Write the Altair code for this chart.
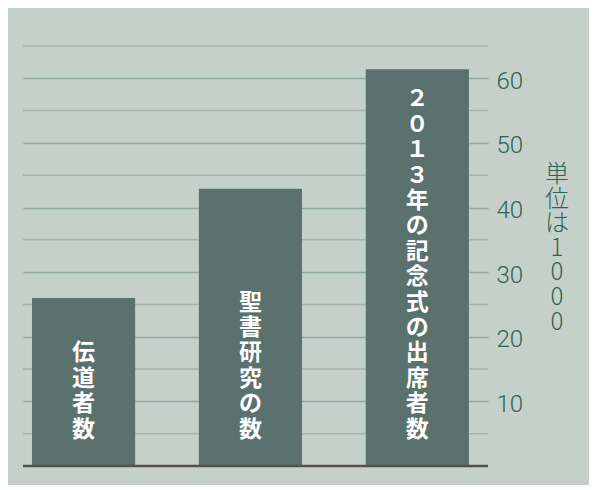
import altair as alt
import pandas as pd

categories = ["伝道者数", "聖書研究の数", "２０１３年の記念式の出席者数"]
values = [26.0, 42.9, 61.4]
major_ticks = [10, 20, 30, 40, 50, 60]
minor_lines = [5, 15, 25, 35, 45, 55, 65]
unit_title = "単位は1000"

LINE_H = 25.4
PX_PER_UNIT = 420 / 65

df = pd.DataFrame({
    "cat": categories,
    "val": values,
    "label": ["\n".join(c) for c in categories],
    "n": [len(c) for c in categories],
})
minor_df = pd.DataFrame({"v": minor_lines})

x_enc = alt.X(
    "cat:N", sort=categories, axis=None,
    scale=alt.Scale(paddingInner=0.382, paddingOuter=0.084, align=0.32),
)
y_scale = alt.Scale(domain=[0, 65], nice=False)

minor = alt.Chart(minor_df).mark_rule(color="#a9b1ab", strokeWidth=1.5).encode(
    y=alt.Y("v:Q", scale=y_scale)
)

bars = alt.Chart(df).mark_bar(color="#5a716e").encode(
    x=x_enc,
    y=alt.Y(
        "val:Q", scale=y_scale, title=None,
        axis=alt.Axis(
            orient="right", values=major_ticks, grid=True, gridColor="#8fa99f",
            gridWidth=1.5, domain=False, ticks=False, labelPadding=8,
            labelOffset=3, labelFont="Roboto", labelFontWeight=300,
            labelFontSize=24, labelColor="#2f6354",
        ),
    ),
)

# vertical labels: stack from a common bottom upward
labels = (
    alt.Chart(df)
    .transform_calculate(
        ty=f"3.7 + datum.n * {LINE_H} / {PX_PER_UNIT}"
    )
    .mark_text(
        lineBreak="\n", color="white", font="Noto Sans CJK JP", fontWeight="bold",
        fontSize=23, lineHeight=LINE_H, baseline="top", dy=2,
    )
    .encode(x=x_enc, y=alt.Y("ty:Q", scale=y_scale), text="label:N")
)

base_line = alt.Chart(pd.DataFrame({"v": [0]})).mark_rule(
    color="#55504c", strokeWidth=2.5
).encode(y=alt.Y("v:Q", scale=y_scale))

unit = alt.Chart(pd.DataFrame({"t": ["\n".join(unit_title)]})).mark_text(
    lineBreak="\n", color="#2f6354", font="Noto Sans CJK JP", fontWeight=300,
    fontSize=24, lineHeight=24.6, baseline="top", align="center",
).encode(x=alt.value(534), y=alt.value(117), text="t:N")

chart = (
    alt.layer(minor, bars, labels, base_line, unit)
    .properties(
        width=465, height=420,
        padding={"left": 13, "top": 37, "right": 20, "bottom": 17},
    )
    .configure(background="#c5d0cb")
    .configure_view(stroke=None)
)

chart.save("out.html", embed_options={"renderer": "svg", "actions": False})
